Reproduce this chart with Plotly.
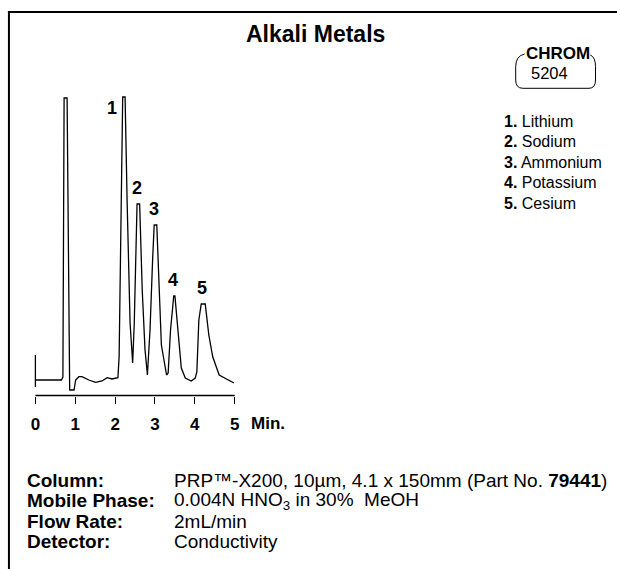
import plotly.graph_objects as go

# ---------------- data ----------------
title_text = "Alkali Metals"
chrom_id = "5204"

# chromatogram trace (time in minutes, detector response in arbitrary units)
time_min = [0.0, 0.0, 0.0, 0.653, 0.69, 0.72, 0.795, 0.86, 0.97, 1.01, 1.09, 1.17, 1.34,
            1.51, 1.67, 1.80, 1.92, 2.07, 2.10, 2.19, 2.25, 2.30, 2.375, 2.44, 2.48,
            2.55, 2.615, 2.68, 2.75, 2.81, 2.875, 2.94, 2.98, 3.045, 3.10, 3.16, 3.29,
            3.33, 3.39, 3.47, 3.50, 3.59, 3.66, 3.76, 3.91, 4.01, 4.05, 4.10, 4.16,
            4.26, 4.35, 4.45, 4.61, 4.98]
response = [25, -7, 0, 0, 3, 282, 282, -10, -10, 0, 3.3, 3.3, 0,
            -2.3, -1, 2.3, 1, 2.3, 23, 283, 283, 180, 57, 17, 57,
            176, 176, 90, 30, 5, 50, 120, 155, 155, 90, 35, 5,
            7, 50, 84, 84, 40, 12, 2, -1, 2, 8, 60, 76,
            76, 45, 23, 5, -3]

peak_labels = ["1", "2", "3", "4", "5"]
peak_times = [2.21, 2.57, 3.01, 3.48, 4.21]
peak_heights = [283, 176, 155, 84, 76]
compounds = ["Lithium", "Sodium", "Ammonium", "Potassium", "Cesium"]

tick_vals = [0, 1, 2, 3, 4, 5]
tick_text = ["0", "1", "2", "3", "4", "5"]
axis_unit = "Min."

cond_labels = ["Column:", "Mobile Phase:", "Flow Rate:", "Detector:"]
cond_values = ["PRP™-X200, 10µm, 4.1 x 150mm (Part No. <b>79441</b>)",
               "0.004N HNO<sub>3</sub> in 30%  MeOH",
               "2mL/min",
               "Conductivity"]

# ---------------- layout helpers ----------------
W, H = 620, 569
FONT = "Liberation Sans, Arial, Helvetica, sans-serif"


def px(x):
    return x / W


def py(y):
    return 1 - y / H


fig = go.Figure()
fig.add_trace(go.Scatter(x=time_min, y=response, mode="lines",
                         line=dict(color="black", width=1.3),
                         hoverinfo="skip", showlegend=False))

annotations = []
# title
annotations.append(dict(x=px(316), y=py(34), xref="paper", yref="paper",
                        text="<b>%s</b>" % title_text, showarrow=False,
                        font=dict(family=FONT, size=23, color="black"),
                        xanchor="center", yanchor="middle"))
# badge
annotations.append(dict(x=px(560), y=py(53), xref="paper", yref="paper",
                        text="<b>CHROM</b>", showarrow=False,
                        font=dict(family=FONT, size=17, color="black"),
                        xanchor="center", yanchor="middle"))
annotations.append(dict(x=px(552), y=py(73), xref="paper", yref="paper",
                        text=chrom_id, showarrow=False,
                        font=dict(family=FONT, size=16.5, color="black"),
                        xanchor="center", yanchor="middle"))
# compound list
for i, (lab, name) in enumerate(zip(peak_labels, compounds)):
    annotations.append(dict(x=px(504), y=py(121 + 20.6 * i), xref="paper", yref="paper",
                            text="<b>%s.</b> %s" % (lab, name), showarrow=False,
                            font=dict(family=FONT, size=16, color="black"),
                            xanchor="left", yanchor="middle"))
# peak labels
for i, (lab, t, h) in enumerate(zip(peak_labels, peak_times, peak_heights)):
    annotations.append(dict(x=t, y=h, xref="x", yref="y", text="<b>%s</b>" % lab,
                            showarrow=False,
                            font=dict(family=FONT, size=18, color="black"),
                            xanchor="center", yanchor="middle",
                            xshift=-12 if i == 0 else -1,
                            yshift=-11 if i == 0 else 16))
# axis unit
annotations.append(dict(x=px(268), y=py(423), xref="paper", yref="paper",
                        text="<b>%s</b>" % axis_unit, showarrow=False,
                        font=dict(family=FONT, size=17, color="black"),
                        xanchor="center", yanchor="middle"))
# conditions
for i, (lab, val) in enumerate(zip(cond_labels, cond_values)):
    yy = py(480 + 20.6 * i)
    annotations.append(dict(x=px(22), y=yy, xref="paper", yref="paper",
                            text="<b>%s</b>" % lab, showarrow=False,
                            font=dict(family=FONT, size=19, color="black"),
                            xanchor="left", yanchor="middle"))
    annotations.append(dict(x=px(171), y=yy, xref="paper", yref="paper",
                            text=val, showarrow=False,
                            font=dict(family=FONT, size=19, color="black"),
                            xanchor="left", yanchor="middle"))

# badge outline path (pixel coords -> paper)
pts = [(526.7, 54), (517.7, 56), (517.7, 66.7), (517.7, 80), (517.7, 88.3), (525, 88.3),
       (591.7, 88.3), (598.3, 88.3), (598.3, 80), (598.3, 66.7), (598.3, 57), (593, 55)]


def P(p):
    return "%.5f,%.5f" % (px(p[0]), py(p[1]))


badge_path = ("M " + P(pts[0]) + " Q " + P(pts[1]) + " " + P(pts[2]) +
              " L " + P(pts[3]) + " Q " + P(pts[4]) + " " + P(pts[5]) +
              " L " + P(pts[6]) + " Q " + P(pts[7]) + " " + P(pts[8]) +
              " L " + P(pts[9]) + " Q " + P(pts[10]) + " " + P(pts[11]))

shapes = [
    # time axis baseline
    dict(type="line", xref="x", yref="y domain", x0=tick_vals[0], x1=tick_vals[-1],
         y0=0, y1=0, line=dict(color="black", width=1.5)),
    # frame
    dict(type="line", xref="paper", yref="paper", x0=px(5), x1=1, y0=py(12), y1=py(12),
         line=dict(color="black", width=2)),
    dict(type="line", xref="paper", yref="paper", x0=px(6), x1=px(6), y0=py(11), y1=0,
         line=dict(color="black", width=2)),
    dict(type="path", xref="paper", yref="paper", path=badge_path,
         line=dict(color="black", width=1)),
]

fig.update_layout(
    width=W, height=H, margin=dict(l=0, r=0, t=0, b=0),
    paper_bgcolor="white", plot_bgcolor="white",
    annotations=annotations, shapes=shapes, showlegend=False,
    xaxis=dict(domain=[px(30.7), px(236.0)], range=[-0.05, 5.05],
               showgrid=False, zeroline=False, showline=False,
               ticks="outside", ticklen=7, tickwidth=1.2, tickcolor="black",
               tickvals=tick_vals, ticktext=["<b>%s</b>" % t for t in tick_text],
               tickfont=dict(family=FONT, size=17, color="black"),
               ticklabelstandoff=6, fixedrange=True),
    yaxis=dict(domain=[py(395.5), py(80)], range=[-15.5, 300], visible=False,
               fixedrange=True),
)

fig.write_html("out.html", config={"displayModeBar": False},
               post_script="document.body.style.margin='0px';"
                           "document.body.style.overflow='hidden';")
